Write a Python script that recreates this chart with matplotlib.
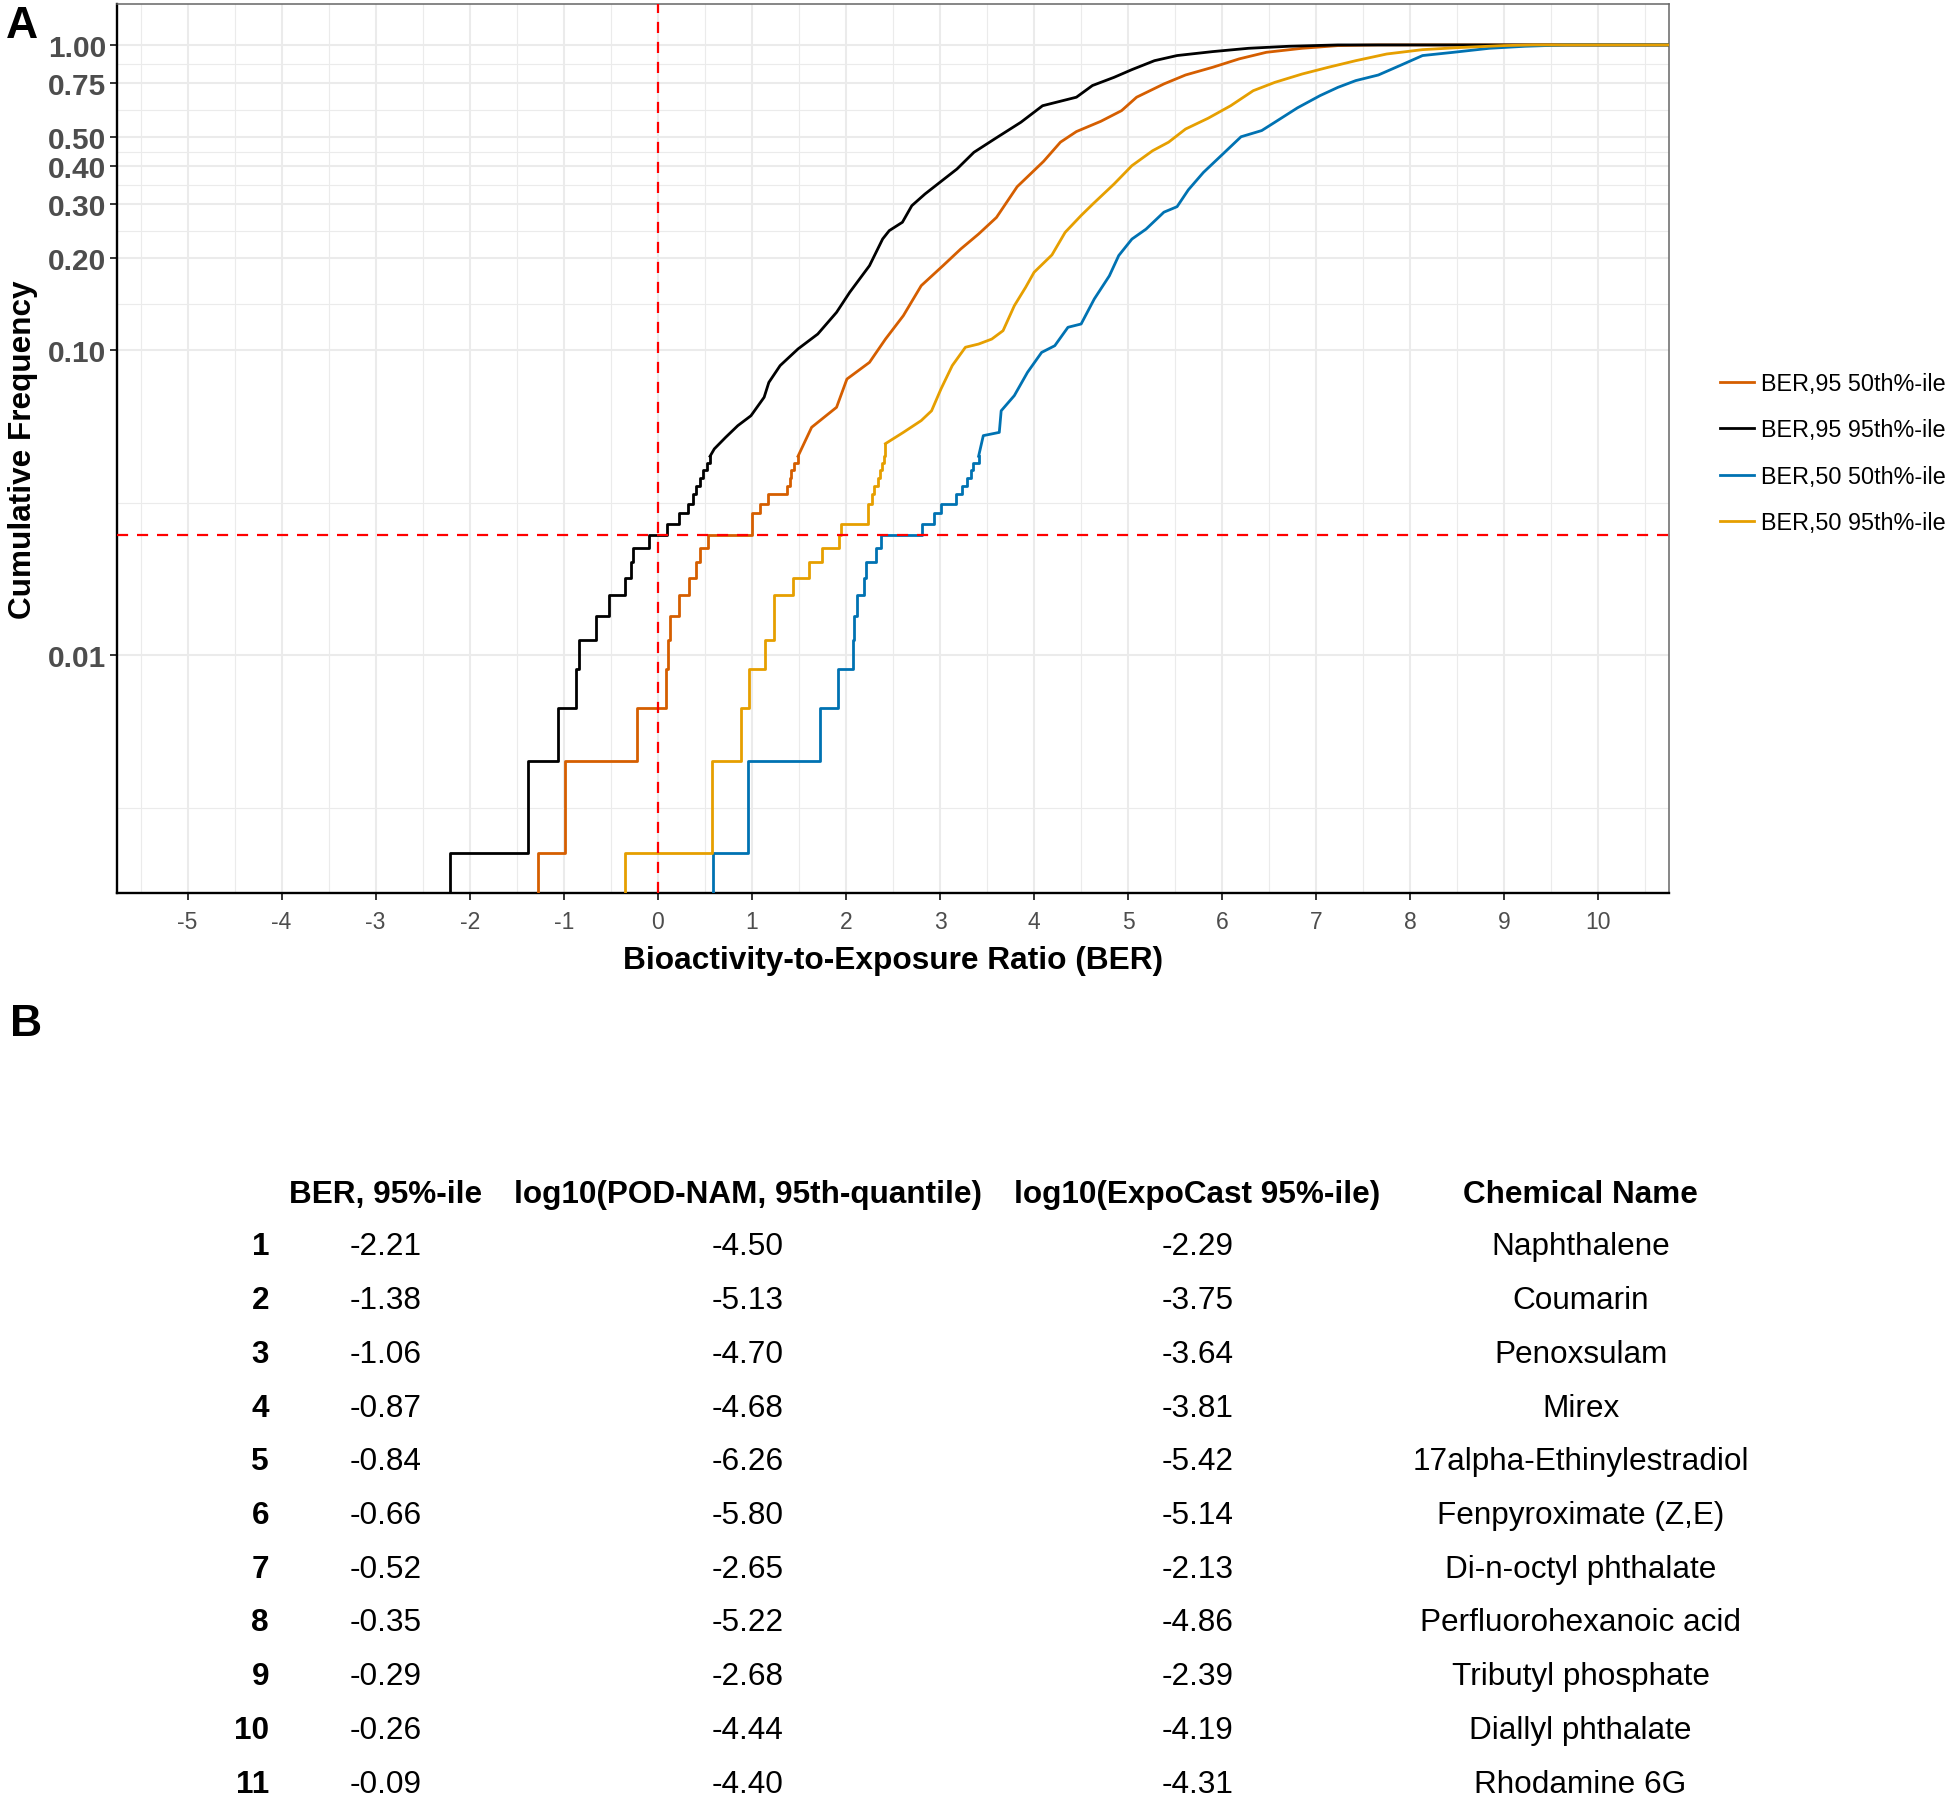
import numpy as np
import matplotlib
matplotlib.use("Agg")
import matplotlib.pyplot as plt

plt.rcParams['font.family'] = ['Liberation Sans', 'DejaVu Sans']

# ---------------------------------------------------------------- data
n_chemicals = 446
threshold_freq = 0.0247          # cumulative frequency of the 11 chemicals with BER < 0

# Panel B table
table_rank = [1, 2, 3, 4, 5, 6, 7, 8, 9, 10, 11]
table_ber95 = [-2.21, -1.38, -1.06, -0.87, -0.84, -0.66, -0.52, -0.35, -0.29, -0.26, -0.09]
table_pod_nam = [-4.50, -5.13, -4.70, -4.68, -6.26, -5.80, -2.65, -5.22, -2.68, -4.44, -4.40]
table_expocast = [-2.29, -3.75, -3.64, -3.81, -5.42, -5.14, -2.13, -4.86, -2.39, -4.19, -4.31]
table_names = ["Naphthalene", "Coumarin", "Penoxsulam", "Mirex", "17alpha-Ethinylestradiol",
               "Fenpyroximate (Z,E)", "Di-n-octyl phthalate", "Perfluorohexanoic acid",
               "Tributyl phosphate", "Diallyl phthalate", "Rhodamine 6G"]
table_headers = ["BER, 95%-ile", "log10(POD-NAM, 95th-quantile)",
                 "log10(ExpoCast 95%-ile)", "Chemical Name"]

# Panel A: lowest sorted BER values (individual ECDF steps), then read points of the upper ECDF
series_labels = ["BER,95 50th%-ile", "BER,95 95th%-ile", "BER,50 50th%-ile", "BER,50 95th%-ile"]
series_colors = ["#D55E00", "#000000", "#0072B2", "#E69F00"]

ber95_p50_low = [-1.27, -0.99, -0.22, 0.09, 0.11, 0.13, 0.23, 0.33, 0.41, 0.45, 0.53,
                 1.00, 1.00, 1.09, 1.175, 1.37, 1.40, 1.42, 1.45, 1.49]
ber95_p50_tail_x = [1.635, 1.90, 2.01, 2.25, 2.42, 2.61, 2.80, 3.03, 3.22, 3.41, 3.60, 3.82,
                    4.10, 4.28, 4.45, 4.71, 4.93, 5.09, 5.38, 5.61, 5.90, 6.18, 6.47, 6.85, 7.23, 7.66]
ber95_p50_tail_f = [0.0558, 0.0649, 0.0803, 0.0911, 0.1086, 0.1296, 0.1625, 0.1888, 0.2143, 0.240,
                    0.272, 0.343, 0.415, 0.480, 0.520, 0.562, 0.609, 0.674, 0.745, 0.797, 0.845,
                    0.900, 0.946, 0.975, 0.995, 1.0]

ber95_p95_low = table_ber95 + [0.10, 0.22, 0.32, 0.375, 0.41, 0.45, 0.48, 0.52, 0.555]
ber95_p95_tail_x = [0.60, 0.72, 0.85, 0.99, 1.13, 1.18, 1.30, 1.49, 1.70, 1.90, 2.04, 2.25, 2.39,
                    2.46, 2.60, 2.70, 2.84, 3.00, 3.18, 3.36, 3.58, 3.86, 4.09, 4.45, 4.62, 4.85,
                    5.04, 5.28, 5.52, 5.90, 6.28, 6.71, 7.23]
ber95_p95_tail_f = [0.0474, 0.0517, 0.0565, 0.0609, 0.0700, 0.0783, 0.0889, 0.1008, 0.1128, 0.1329,
                    0.1546, 0.1890, 0.2312, 0.2462, 0.2623, 0.2972, 0.3246, 0.3548, 0.3920, 0.4446,
                    0.4918, 0.558, 0.632, 0.674, 0.736, 0.783, 0.830, 0.888, 0.923, 0.951, 0.975,
                    0.990, 1.0]

ber50_p50_low = [0.59, 0.96, 1.72, 1.91, 2.08, 2.09, 2.12, 2.19, 2.21, 2.32, 2.37,
                 2.81, 2.94, 3.01, 3.17, 3.23, 3.29, 3.33, 3.35, 3.41]
ber50_p50_tail_x = [3.46, 3.63, 3.65, 3.79, 3.93, 4.08, 4.22, 4.36, 4.50, 4.64, 4.80, 4.90, 5.04,
                    5.19, 5.38, 5.52, 5.64, 5.80, 5.99, 6.20, 6.42, 6.56, 6.80, 7.04, 7.23, 7.42,
                    7.66, 7.89, 8.13, 8.46, 8.84, 9.22, 9.65]
ber50_p50_tail_f = [0.0524, 0.0537, 0.0632, 0.0709, 0.0845, 0.0982, 0.1033, 0.1187, 0.1217, 0.147,
                    0.175, 0.204, 0.231, 0.249, 0.283, 0.295, 0.335, 0.382, 0.434, 0.500, 0.524,
                    0.558, 0.622, 0.682, 0.726, 0.764, 0.797, 0.856, 0.923, 0.946, 0.975, 0.990, 1.0]

ber50_p95_low = [-0.35, 0.58, 0.88, 0.97, 1.14, 1.23, 1.24, 1.44, 1.61, 1.74, 1.93,
                 1.95, 2.23, 2.23, 2.28, 2.30, 2.34, 2.36, 2.38, 2.40, 2.41, 2.42]
ber50_p95_tail_x = [2.61, 2.80, 2.91, 3.01, 3.13, 3.27, 3.41, 3.55, 3.67, 3.79, 3.91, 4.00, 4.19,
                    4.33, 4.50, 4.62, 4.85, 5.04, 5.26, 5.43, 5.61, 5.85, 6.09, 6.33, 6.56, 6.85,
                    7.13, 7.42, 7.75, 8.13, 8.51, 8.99, 9.30]
ber50_p95_tail_f = [0.0537, 0.0587, 0.0632, 0.0745, 0.0889, 0.1021, 0.1046, 0.1086, 0.1157, 0.1397,
                    0.1605, 0.1798, 0.205, 0.243, 0.276, 0.300, 0.350, 0.402, 0.450, 0.480, 0.530,
                    0.575, 0.632, 0.708, 0.754, 0.803, 0.845, 0.888, 0.934, 0.965, 0.980, 0.995, 1.0]

x_ticks = list(range(-5, 11))
y_ticks = [0.01, 0.10, 0.20, 0.30, 0.40, 0.50, 0.75, 1.00]
y_ticklabels = ["0.01", "0.10", "0.20", "0.30", "0.40", "0.50", "0.75", "1.00"]

# ---------------------------------------------------------------- figure
W, H = 1950, 1799
fig = plt.figure(figsize=(W / 100, H / 100), dpi=100)
fig.patch.set_facecolor("white")

ax_l, ax_r, ax_t, ax_b = 117, 1669, 5, 894
ax = fig.add_axes([ax_l / W, 1 - ax_b / H, (ax_r - ax_l) / W, (ax_b - ax_t) / H])
ax.set_yscale("log")
ax.set_xlim(-5.75, 10.75)
ax.set_ylim(0.00166, 1.362)

# grid (ggplot-like majors and midpoint minors)
grid_c = "#EBEBEB"
for xv in x_ticks:
    ax.axvline(xv, color=grid_c, lw=1.5, zorder=0)
for xv in np.arange(x_ticks[0] - 0.5, x_ticks[-1] + 1, 1.0):
    ax.axvline(xv, color=grid_c, lw=0.8, zorder=0)
for yv in y_ticks:
    ax.axhline(yv, color=grid_c, lw=1.5, zorder=0)
log_breaks = np.log10([0.001] + y_ticks)
for m in (log_breaks[:-1] + log_breaks[1:]) / 2:
    ax.axhline(10 ** m, color=grid_c, lw=0.8, zorder=0)

y_floor = ax.get_ylim()[0] * 0.5
x_ceiling = ax.get_xlim()[1]

series_data = [
    (ber95_p50_low, ber95_p50_tail_x, ber95_p50_tail_f),
    (ber95_p95_low, ber95_p95_tail_x, ber95_p95_tail_f),
    (ber50_p50_low, ber50_p50_tail_x, ber50_p50_tail_f),
    (ber50_p95_low, ber50_p95_tail_x, ber50_p95_tail_f),
]
draw_order = [1, 2, 3, 0]
handles = {}
lw_curve = 2.0
for i in draw_order:
    low, tx, tf = series_data[i]
    low = np.sort(np.asarray(low, dtype=float))
    f_low = np.arange(1, len(low) + 1) / n_chemicals
    xs = np.concatenate([[low[0]], low])
    fs = np.concatenate([[y_floor], f_low])
    ax.plot(xs, fs, drawstyle="steps-post", color=series_colors[i], lw=lw_curve, zorder=3 + i * 0.1)
    txx = np.concatenate([[low[-1]], tx, [x_ceiling]])
    tff = np.concatenate([[f_low[-1]], tf, [1.0]])
    h, = ax.plot(txx, tff, color=series_colors[i], lw=lw_curve, zorder=3 + i * 0.1,
                 label=series_labels[i])
    handles[i] = h

# reference lines
ax.axvline(0, color="#FF0000", lw=1.6, ls=(0, (5, 4)), zorder=6)
ax.axhline(threshold_freq, color="#FF0000", lw=1.6, ls=(0, (5, 4)), zorder=6)

# ticks
ax.set_xticks(x_ticks)
ax.set_xticklabels([str(v) for v in x_ticks])
ax.set_yticks(y_ticks)
ax.set_yticklabels(y_ticklabels)
ax.yaxis.set_minor_locator(matplotlib.ticker.NullLocator())
ax.tick_params(axis="x", length=5, width=1.4, color="#333333", labelsize=16.5,
               labelcolor="#4D4D4D", pad=7.5)
ax.tick_params(axis="y", length=5, width=1.4, color="#333333", labelsize=21.5,
               labelcolor="#4D4D4D", pad=3)
for lab in ax.get_yticklabels():
    lab.set_fontweight("bold")

for s in ["left", "bottom"]:
    ax.spines[s].set_color("black")
    ax.spines[s].set_linewidth(1.7)
for s in ["top", "right"]:
    ax.spines[s].set_color("#666666")
    ax.spines[s].set_linewidth(1.1)

ax.set_xlabel("Bioactivity-to-Exposure Ratio (BER)", fontsize=22.8, fontweight="bold")
ax.set_ylabel("Cumulative Frequency", fontsize=22.7, fontweight="bold")
ax.xaxis.set_label_coords(0.5, -0.058)
ax.yaxis.set_label_coords(-0.051, 0.5)

leg = fig.legend([handles[i] for i in range(4)], series_labels,
                 loc="center left", bbox_to_anchor=(1720 / W, 1 - 454 / H),
                 frameon=False, fontsize=16.8, handlelength=1.45, handletextpad=0.3,
                 labelspacing=1.0, borderpad=0, borderaxespad=0)
for ln in leg.get_lines():
    ln.set_linewidth(2.0)

# panel letters
fig.text(22 / W, 1 - 27 / H, "A", fontsize=32, fontweight="bold", ha="center", va="center")
fig.text(26 / W, 1 - 1025 / H, "B", fontsize=32, fontweight="bold", ha="center", va="center")

# ---------------------------------------------------------------- table (panel B)
col_x = [385.5, 747.5, 1197.6, 1580.6]
rank_x_right = 269
header_y = 1195.0
row_y0, row_dy = 1247.4, 53.72
tfs = 22.7
for cx, hd in zip(col_x, table_headers):
    fig.text(cx / W, 1 - header_y / H, hd, fontsize=tfs, fontweight="bold",
             ha="center", va="center")
for k in range(len(table_rank)):
    y = 1 - (row_y0 + k * row_dy) / H
    fig.text(rank_x_right / W, y, str(table_rank[k]), fontsize=tfs, fontweight="bold",
             ha="right", va="center")
    vals = [f"{table_ber95[k]:.2f}", f"{table_pod_nam[k]:.2f}", f"{table_expocast[k]:.2f}",
            table_names[k]]
    for cx, v in zip(col_x, vals):
        fig.text(cx / W, y, v, fontsize=tfs, ha="center", va="center")

fig.savefig("out.png", dpi=100, facecolor="white")
